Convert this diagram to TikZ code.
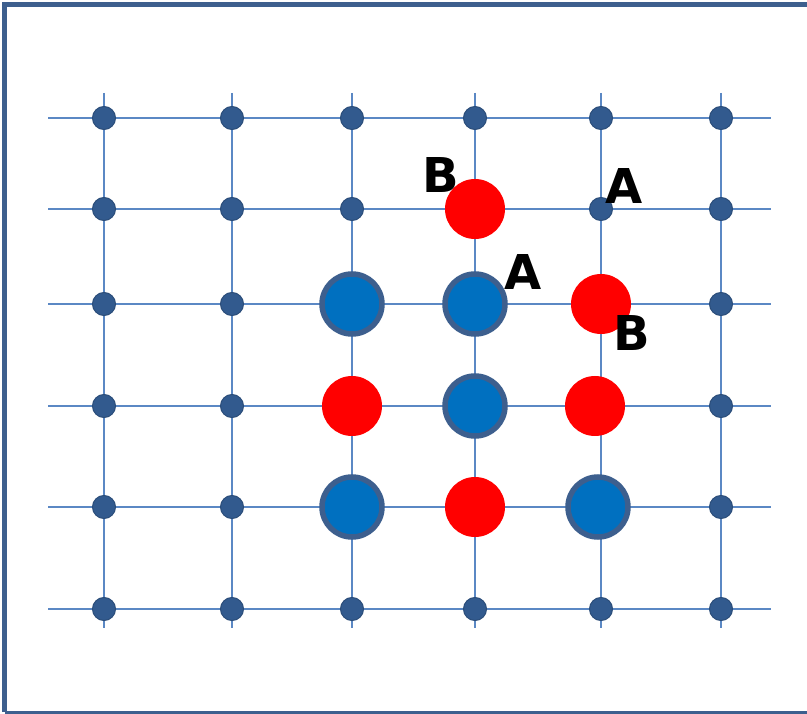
\documentclass[tikz,border=0pt]{standalone}
\usepackage{fontspec}
\setsansfont{DejaVu Sans}
\usepackage{tikz}
\usetikzlibrary{positioning}
\definecolor{framec}{HTML}{3D5F8E}
\definecolor{gridc}{HTML}{5B88C4}
\definecolor{dotc}{HTML}{325A8E}
\definecolor{atomc}{HTML}{0070C0}

\begin{document}
\begin{tikzpicture}[x=1pt, y=-1pt,
    gridline/.style={gridc, line width=2.2pt},
    dot/.style={circle, fill=dotc, draw=dotc!85!black, line width=1pt, minimum size=23pt, inner sep=0pt},
    atomA/.style={circle, fill=atomc, draw=framec, line width=5.5pt, minimum size=60pt, inner sep=0pt},
    atomB/.style={circle, fill=red, minimum size=60pt, inner sep=0pt},
    lbl/.style={font=\sffamily\bfseries\fontsize{48}{48}\selectfont, text=black, inner sep=0pt}
]
\useasboundingbox (0,0) rectangle (807,714);
% frame
\draw[framec, line width=5pt] (4.5,712) -- (4.5,4.5) -- (812,4.5);
\draw[framec, line width=2.5pt] (4.5,712.5) -- (812,712.5);

% grid lines
\foreach \c/\x in {1/104,2/232,3/352,4/475,5/601,6/721} {
    \coordinate (vt-\c) at (\x,93);
    \coordinate (vb-\c) at (\x,628);
    \draw[gridline] (vt-\c) -- (vb-\c);
}
\foreach \r/\y in {1/118,2/209,3/304,4/406,5/507,6/609} {
    \coordinate (hl-\r) at (48,\y);
    \coordinate (hr-\r) at (771,\y);
    \draw[gridline] (hl-\r) -- (hr-\r);
}

% lattice sites
\foreach \c/\x in {1/104,2/232,3/352,4/475,5/601,6/721} {
    \foreach \r/\y in {1/118,2/209,3/304,4/406,5/507,6/609} {
        \node[dot] (p-\c-\r) at (\x,\y) {};
    }
}

% occupied sites
\node[atomB] (b1) at (p-4-2) {};
\node[atomA] (a1) at (p-3-3) {};
\node[atomA] (a2) at (p-4-3) {};
\node[atomB] (b2) at (p-5-3) {};
\node[atomB] (b3) at (p-3-4) {};
\node[atomA] (a3) at (p-4-4) {};
\node[atomB, xshift=-6pt] (b4) at (p-5-4) {};
\node[atomA] (a4) at (p-3-5) {};
\node[atomB] (b5) at (p-4-5) {};
\node[atomA, xshift=-3pt] (a5) at (p-5-5) {};

% labels
\node[lbl] (lB1) at (441,175) {B};
\node[lbl] (lA1) at (624,186) {A};
\node[lbl] (lA2) at (523,272) {A};
\node[lbl] (lB2) at (632,333) {B};

\end{tikzpicture}
\end{document}
